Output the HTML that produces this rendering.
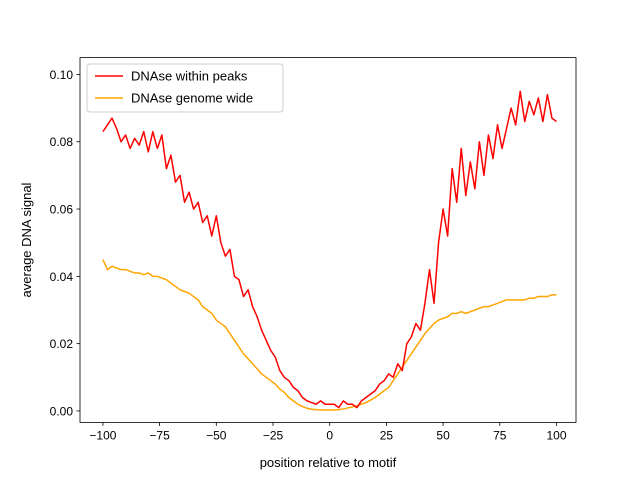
<!DOCTYPE html>
<html><head><meta charset="utf-8"><style>
body{margin:0;background:#fff}
svg{font-family:"Liberation Sans","DejaVu Sans",sans-serif}
</style></head><body>
<svg id="chart" width="640" height="480" xmlns="http://www.w3.org/2000/svg">
<rect width="640" height="480" fill="#fff"/>
<g id="plot"></g>
</svg>
<script>
const xValues=[];for(let i=-100;i<=100;i+=2)xValues.push(i);
const peaks=[.083,.085,.087,.084,.080,.082,.078,.081,.079,.083,.077,.083,.078,.082,.072,.076,.068,.070,.062,.065,.060,.062,.056,.058,.052,.058,.050,.046,.048,.040,.039,.034,.036,.031,.028,.024,.021,.018,.016,.012,.010,.009,.007,.006,.004,.003,.0025,.002,.003,.002,.002,.002,.001,.003,.002,.002,.001,.003,.004,.005,.006,.008,.009,.011,.010,.014,.012,.020,.022,.026,.024,.032,.042,.032,.050,.060,.052,.072,.062,.078,.064,.074,.066,.080,.070,.082,.075,.085,.078,.084,.090,.085,.095,.086,.092,.088,.093,.086,.094,.087,.086];
const genome=[.045,.042,.043,.0425,.042,.042,.0415,.041,.041,.0405,.041,.040,.040,.0395,.039,.038,.037,.036,.0355,.035,.034,.033,.031,.030,.029,.027,.026,.025,.023,.021,.019,.017,.0155,.014,.0125,.011,.010,.009,.008,.0065,.0055,.004,.003,.002,.0013,.0008,.0005,.0004,.0003,.0003,.0003,.0003,.0004,.0006,.0009,.0012,.0015,.002,.0025,.0032,.004,.005,.006,.007,.009,.011,.013,.015,.017,.019,.021,.023,.0245,.026,.027,.0275,.028,.029,.029,.0295,.029,.0295,.030,.0305,.031,.031,.0315,.032,.0325,.033,.033,.033,.033,.033,.0335,.0335,.034,.034,.034,.0345,.0345];
const xTicks=[-100,-75,-50,-25,0,25,50,75,100];
const yTicks=[0,0.02,0.04,0.06,0.08,0.10];
const yTickLabels=["0.00","0.02","0.04","0.06","0.08","0.10"];
const L=80,R=576,T=57.6,B=422.4,x0=-110.1,x1=108.6,y0=-0.0034,y1=0.105;
const sx=v=>L+(v-x0)/(x1-x0)*(R-L), sy=v=>B-(v-y0)/(y1-y0)*(B-T);
const NS="http://www.w3.org/2000/svg",g=document.getElementById('plot');
function mk(t,a,txt){const e=document.createElementNS(NS,t);for(const k in a)e.setAttribute(k,a[k]);if(txt!=null)e.textContent=txt;g.appendChild(e);return e;}
function line(ys,color,name){const d=ys.map((v,i)=>(i?'L':'M')+sx(xValues[i]).toFixed(2)+','+sy(v).toFixed(2)).join('');
const p=mk('path',{d:d,fill:'none',stroke:color,'stroke-width':1.5,'stroke-linejoin':'round'});

}
line(genome,'#ffa500','series-genome-wide');
line(peaks,'#ff0000','series-within-peaks');
const fr=mk('rect',{x:L,y:T,width:R-L,height:B-T,fill:'none',stroke:'#000','stroke-width':0.8});


xTicks.forEach(v=>{const x=sx(v);mk('line',{x1:x,x2:x,y1:B,y2:B+3.5,stroke:'#000','stroke-width':0.8});
const t=mk('text',{x:x,y:B+17,'font-size':12,'text-anchor':'middle'},v<0?'\u2212'+(-v):''+v);

});
yTicks.forEach((v,i)=>{const y=sy(v);mk('line',{x1:L-3.5,x2:L,y1:y,y2:y,stroke:'#000','stroke-width':0.8});
const t=mk('text',{x:L-7,y:y+4.5,'font-size':12,'text-anchor':'end'},yTickLabels[i]);

});
const xt=mk('text',{x:(L+R)/2,y:467,'font-size':13,'text-anchor':'middle'},'position relative to motif');


const yt=mk('text',{x:0,y:0,'font-size':13,'text-anchor':'middle',transform:'translate(31,240) rotate(-90)'},'average DNA signal');


const lg=mk('rect',{x:87,y:64,width:196,height:48,rx:3,fill:'#fff','fill-opacity':0.8,stroke:'#ccc','stroke-width':1});


[['DNAse within peaks','#ff0000',76],['DNAse genome wide','#ffa500',98]].forEach(e=>{
mk('line',{x1:95,x2:123,y1:e[2],y2:e[2],stroke:e[1],'stroke-width':1.5});
const t=mk('text',{x:131,y:e[2]+4.5,'font-size':13},e[0]);

});
</script>
</body></html>
